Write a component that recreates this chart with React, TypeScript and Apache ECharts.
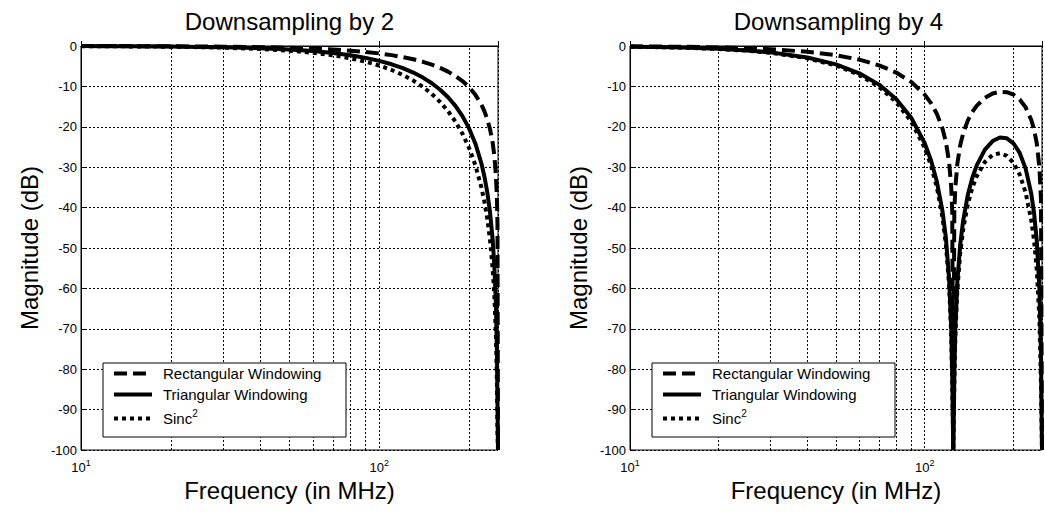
import React, { useEffect, useRef } from "react";
import * as echarts from "echarts";

// Left plot: downsampling by 2 (frequency in MHz, magnitude in dB)
const freqL = [10, 12, 15, 20, 25, 30, 40, 50, 60, 70, 80, 90, 100, 110, 120, 130, 140, 150, 160, 170, 180, 190, 200, 210, 220, 225, 230, 235, 240, 243, 246, 248, 249, 250];
const rectL = [-0.02, -0.02, -0.04, -0.07, -0.11, -0.16, -0.28, -0.44, -0.63, -0.87, -1.15, -1.47, -1.84, -2.26, -2.75, -3.29, -3.91, -4.62, -5.42, -6.34, -7.42, -8.68, -10.2, -12.09, -14.55, -16.11, -18.04, -20.53, -24.04, -27.14, -32.0, -38.02, -44.04, -100];
const triL = [-0.03, -0.05, -0.08, -0.14, -0.22, -0.31, -0.55, -0.87, -1.26, -1.74, -2.29, -2.94, -3.68, -4.53, -5.49, -6.58, -7.82, -9.23, -10.84, -12.69, -14.83, -17.36, -20.4, -24.17, -29.09, -32.23, -36.08, -41.05, -48.08, -54.27, -63.99, -76.03, -88.07, -100];
const sincL = [-0.05, -0.07, -0.1, -0.18, -0.29, -0.41, -0.74, -1.16, -1.68, -2.3, -3.03, -3.88, -4.84, -5.94, -7.17, -8.56, -10.12, -11.88, -13.87, -16.13, -18.71, -21.7, -25.24, -29.55, -35.03, -38.46, -42.61, -47.9, -55.25, -61.64, -71.57, -83.74, -95.85, -100];

// Right plot: downsampling by 4
const freqR = [10, 12, 15, 20, 25, 30, 40, 50, 60, 70, 80, 90, 100, 105, 110, 115, 118, 121, 123, 124, 125, 126, 127, 129, 132, 135, 140, 145, 150, 160, 170, 180, 190, 200, 210, 220, 230, 235, 240, 245, 248, 250];
const rectR = [-0.09, -0.12, -0.19, -0.35, -0.54, -0.79, -1.42, -2.28, -3.38, -4.78, -6.57, -8.89, -12.04, -14.13, -16.81, -20.54, -23.77, -28.78, -34.9, -40.97, -100, -41.08, -35.12, -29.21, -24.53, -21.63, -18.46, -16.34, -14.82, -12.84, -11.76, -11.33, -11.43, -12.04, -13.23, -15.18, -18.32, -20.68, -24.11, -30.08, -38.02, -100];
const triR = [-0.17, -0.25, -0.39, -0.69, -1.09, -1.58, -2.85, -4.55, -6.76, -9.56, -13.13, -17.77, -24.08, -28.27, -33.62, -41.07, -47.54, -57.55, -69.8, -81.94, -100, -82.16, -70.23, -58.42, -49.07, -43.26, -36.91, -32.68, -29.63, -25.67, -23.53, -22.66, -22.85, -24.08, -26.47, -30.36, -36.63, -41.37, -48.22, -60.15, -76.04, -100];
const sincR = [-0.18, -0.26, -0.41, -0.74, -1.16, -1.68, -3.03, -4.84, -7.17, -10.12, -13.87, -18.71, -25.24, -29.55, -35.03, -42.61, -49.16, -59.26, -71.57, -83.74, -100, -84.02, -72.12, -60.37, -51.11, -45.4, -39.22, -35.15, -32.28, -28.7, -26.96, -26.53, -27.19, -28.92, -31.84, -36.29, -43.17, -48.21, -55.39, -67.65, -83.74, -100];

const minorGridX = [20, 30, 40, 50, 60, 70, 80, 90, 200];
const yTicks = { min: -100, max: 0, interval: 10 };
const titles = ["Downsampling by 2", "Downsampling by 4"];
const seriesNames = ["Rectangular Windowing", "Triangular Windowing", "Sinc2"];

const FONT = '"Liberation Sans", Arial, Helvetica, sans-serif';

export default function App() {
  const ref = useRef<HTMLDivElement>(null);
  useEffect(() => {
    if (!ref.current) return;
    const chart = echarts.init(ref.current, undefined, { renderer: "svg" });
    const gridLefts = [81, 630];
    const gridW = 417;
    const pairs = (f: number[], v: number[]) => f.map((x, i) => [x, v[i]]);
    const dataSets = [
      [pairs(freqL, rectL), pairs(freqL, triL), pairs(freqL, sincL)],
      [pairs(freqR, rectR), pairs(freqR, triR), pairs(freqR, sincR)],
    ];
    const lineStyles: any[] = [
      { color: "#000", width: 4, type: [13, 6], cap: "butt" },
      { color: "#000", width: 4, type: "solid" },
      { color: "#000", width: 4, type: [4, 4], cap: "butt" },
    ];
    const series: any[] = [];
    [0, 1].forEach((g) => {
      seriesNames.forEach((name, k) => {
        series.push({
          type: "line",
          name,
          xAxisIndex: g,
          yAxisIndex: g,
          data: dataSets[g][k],
          showSymbol: false,
          symbol: "none",
          smooth: false,
          clip: true,
          lineStyle: lineStyles[k],
          itemStyle: { color: "#000" },
          z: 3,
          markLine:
            k === 0
              ? {
                  silent: true,
                  symbol: ["none", "none"],
                  label: { show: false },
                  lineStyle: { color: "#000", width: 1, type: [2, 2] },
                  data: minorGridX.map((v) => ({ xAxis: v })),
                  z: 1,
                }
              : undefined,
        });
      });
    });

    const option: any = {
      animation: false,
      textStyle: { fontFamily: FONT, color: "#000" },
      grid: gridLefts.map((left) => ({
        left,
        top: 46,
        width: gridW,
        height: 404,
        show: true,
        borderColor: "#000",
        borderWidth: 1,
        backgroundColor: "#fff",
      })),
      xAxis: [0, 1].map((g) => ({
        type: "log",
        logBase: 10,
        gridIndex: g,
        min: 10,
        max: 250,
        axisLine: { show: true, lineStyle: { color: "#000", width: 1 } },
        axisTick: { show: true, inside: true, length: 5, lineStyle: { color: "#000" } },
        splitLine: { show: true, lineStyle: { color: "#000", width: 1, type: [2, 2] } },
        axisLabel: {
          margin: 8,
          color: "#000",
          fontFamily: FONT,
          formatter: (v: number) => {
            const e = Math.round(Math.log10(v));
            return Math.abs(Math.pow(10, e) - v) < 1e-6 ? `{b|10}{s|${e}}` : "";
          },
          rich: {
            b: { fontSize: 13, color: "#000", fontFamily: FONT },
            s: { fontSize: 9, color: "#000", fontFamily: FONT, padding: [0, 0, 9, 0] },
          },
        },
        name: "Frequency (in MHz)",
        nameLocation: "middle",
        nameGap: 27,
        nameTextStyle: { fontSize: 24, color: "#000", fontFamily: FONT },
      })),
      yAxis: [0, 1].map((g) => ({
        type: "value",
        gridIndex: g,
        min: yTicks.min,
        max: yTicks.max,
        interval: yTicks.interval,
        axisLine: { show: true, lineStyle: { color: "#000", width: 1 } },
        axisTick: { show: true, inside: true, length: 5, lineStyle: { color: "#000" } },
        splitLine: { show: true, lineStyle: { color: "#000", width: 1, type: [2, 2] } },
        axisLabel: { fontSize: 13, color: "#000", margin: 4, fontFamily: FONT },
        name: "Magnitude (dB)",
        nameLocation: "middle",
        nameGap: 40,
        nameTextStyle: { fontSize: 24, color: "#000", fontFamily: FONT },
      })),
      legend: gridLefts.map((gl) => ({
        left: gl + 31,
        top: 366,
        orient: "vertical",
        itemWidth: 38,
        itemHeight: 14,
        itemGap: 6,
        padding: 0,
        selectedMode: false,
        data: seriesNames,
        z: 10,
        itemStyle: { opacity: 0, color: "transparent", borderWidth: 0 },
        lineStyle: { width: 4 },
        textStyle: {
          fontSize: 15,
          color: "#000",
          fontFamily: FONT,
          padding: [0, 0, 0, 6],
          rich: { sup: { fontSize: 10, fontFamily: FONT, color: "#000", padding: [0, 0, 11, 0] } },
        },
        formatter: (n: string) => (n === "Sinc2" ? "Sinc{sup|2}" : n),
      })),
      graphic: [
        ...gridLefts.map((gl) => ({
          type: "rect",
          z: 5,
          shape: { x: gl + 22, y: 363, width: 243, height: 74 },
          style: { fill: "#fff", stroke: "#000", lineWidth: 1 },
        })),
        ...gridLefts.map((gl, i) => ({
          type: "text",
          z: 5,
          x: gl + gridW / 2,
          y: 21,
          style: {
            text: titles[i],
            font: `24px ${FONT}`,
            fill: "#000",
            align: "center",
            verticalAlign: "middle",
            textAlign: "center",
            textVerticalAlign: "middle",
          },
        })),
      ],
      series,
    };
    chart.setOption(option);
    return () => chart.dispose();
  }, []);
  return (
    <div
      ref={ref}
      style={{ position: "absolute", left: 0, top: 0, width: 1045, height: 512, background: "#fff" }}
    />
  );
}
